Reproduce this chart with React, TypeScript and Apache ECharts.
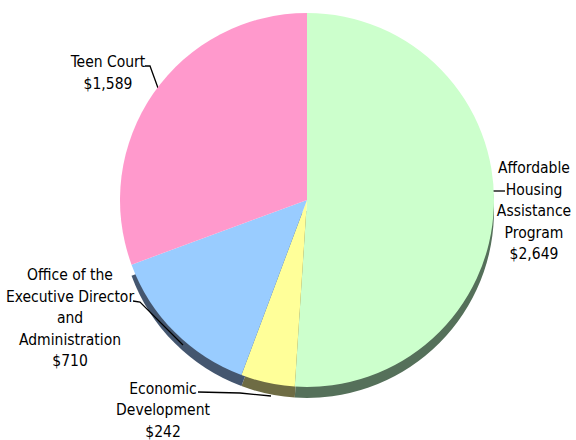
import React, { useEffect, useRef } from "react";
import * as echarts from "echarts";

const categories = [
  "Affordable\nHousing\nAssistance\nProgram",
  "Economic\nDevelopment",
  "Office of the\nExecutive Director\nand\nAdministration",
  "Teen Court",
];
const values = [2649, 242, 710, 1589];
const topColors = ["#ccffcc", "#ffff99", "#99ccff", "#ff99cc"];
const sideColors = ["#55705a", "#6e6c44", "#44566f", "rgba(0,0,0,0)"];

// label anchor spots (layout only)
const labelSpots = [
  { x: 534, y: 211, line: [[493, 191], [499, 191], [505, 191]] },
  { x: 163, y: 410, line: [[271, 396], [240, 393], [198, 392]] },
  { x: 70, y: 318, line: [[183, 345], [140, 302], [133, 301]] },
  { x: 108, y: 73, line: [[158, 88], [150, 66], [145, 66]] },
];

const fmt = (v: number) => "$" + v.toLocaleString("en-US");

export default function App() {
  const ref = useRef<HTMLDivElement>(null);
  useEffect(() => {
    if (!ref.current) return;
    const chart = echarts.init(ref.current, undefined, { renderer: "svg" });
    const dataTop = categories.map((c, i) => ({
      name: c,
      value: values[i],
      itemStyle: { color: topColors[i] },
    }));
    const dataSide = categories.map((c, i) => ({
      name: c,
      value: values[i],
      itemStyle: { color: sideColors[i] },
    }));
    chart.setOption({
      animation: false,
      backgroundColor: "#ffffff",
      series: [
        {
          type: "pie",
          z: 1,
          silent: true,
          center: [307, 211],
          radius: 187,
          startAngle: 90,
          clockwise: true,
          label: { show: false },
          labelLine: { show: false },
          emphasis: { disabled: true },
          data: dataSide,
        },
        {
          type: "pie",
          z: 2,
          center: [307, 200],
          radius: 187,
          startAngle: 90,
          clockwise: true,
          avoidLabelOverlap: false,
          emphasis: { disabled: true },
          itemStyle: { borderWidth: 0 },
          label: {
            show: true,
            position: "outside",
            formatter: (p: any) => p.name + "\n" + fmt(p.value),
            fontFamily: "'DejaVu Sans Condensed', 'Liberation Sans', Arial, sans-serif",
            fontSize: 15.5,
            lineHeight: 21.5,
            color: "#000000",
            align: "center",
          },
          labelLine: {
            show: true,
            lineStyle: { color: "#000000", width: 1.3 },
          },
          labelLayout: (params: any) => {
            const s = labelSpots[params.dataIndex];
            return {
              x: s.x,
              y: s.y,
              align: "center",
              verticalAlign: "middle",
              labelLinePoints: s.line,
            };
          },
          data: dataTop,
        },
      ],
    });
    return () => chart.dispose();
  }, []);
  return (
    <div
      ref={ref}
      style={{ position: "fixed", left: 0, top: 0, width: 576, height: 440, background: "#fff" }}
    />
  );
}
